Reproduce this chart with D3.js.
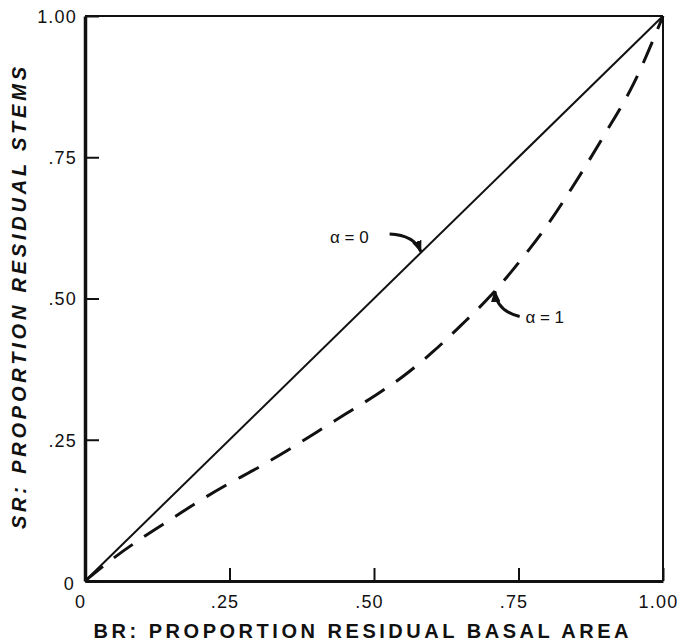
<!DOCTYPE html>
<html><head><meta charset="utf-8">
<script src="https://cdn.jsdelivr.net/npm/d3@7"></script>
<style>html,body{margin:0;padding:0;background:#fff;}</style>
</head><body>
<svg id="c" width="677" height="643"></svg>
<script>
// ---- data ----
const brValues = [0, .05, .10, .15, .20, .25, .30, .35, .40, .45, .50, .55, .60, .65, .70, .75, .80, .85, .90, .95, 1.0];
const srAlpha1 = [0, .041, .077, .110, .143, .173, .201, .231, .263, .295, .327, .362, .404, .452, .503, .563, .630, .708, .792, .882, 1.0];
const srAlpha0 = [0, 1.0];
const brAlpha0 = [0, 1.0];
const xTickValues = [0, .25, .50, .75, 1.0];
const xTickLabels = ["0", ".25", ".50", ".75", "1.00"];
const yTickValues = [0, .25, .50, .75, 1.0];
const yTickLabels = ["0", ".25", ".50", ".75", "1.00"];
const xTitle = "BR: PROPORTION RESIDUAL BASAL AREA";
const yTitle = "SR: PROPORTION RESIDUAL STEMS";
const labelAlpha0 = "\u03B1 = 0";
const labelAlpha1 = "\u03B1 = 1";

// ---- layout ----
const L = 85, R = 663, T = 16, B = 581;
const svg = d3.select("#c");
const x = d3.scaleLinear().domain([0, 1]).range([L, R]);
const y = d3.scaleLinear().domain([0, 1]).range([B, T]);
const font = "'Liberation Sans', Arial, sans-serif";
const ink = "#111";

// frame
svg.append("line").attr("x1", L).attr("x2", R).attr("y1", T).attr("y2", T).attr("stroke", ink).attr("stroke-width", 2);
svg.append("line").attr("x1", R).attr("x2", R).attr("y1", T).attr("y2", B).attr("stroke", ink).attr("stroke-width", 2);

// axes
const gx = svg.append("g").attr("transform", `translate(0,${B})`)
  .call(d3.axisBottom(x).tickValues(xTickValues).tickSizeInner(-13).tickSizeOuter(0)
    .tickPadding(0).tickFormat((d, i) => xTickLabels[i]));
gx.select(".domain").attr("stroke", ink).attr("stroke-width", 3.2);
gx.selectAll(".tick line").attr("stroke", ink).attr("stroke-width", 2);
gx.selectAll(".tick text").attr("font-family", font).attr("font-size", 18).attr("fill", ink)
  .attr("letter-spacing", 1.2).attr("y", 27).attr("dy", 0).attr("dx", -5);

const gy = svg.append("g").attr("transform", `translate(${L},0)`)
  .call(d3.axisLeft(y).tickValues(yTickValues).tickSizeInner(-14).tickSizeOuter(0)
    .tickPadding(9).tickFormat((d, i) => yTickLabels[i]));
gy.select(".domain").attr("stroke", ink).attr("stroke-width", 3.5);
gy.selectAll(".tick line").attr("stroke", ink).attr("stroke-width", 2);
gy.selectAll(".tick text").attr("font-family", font).attr("font-size", 18).attr("fill", ink)
  .attr("letter-spacing", 1.2).attr("x", -8).attr("dy", "0.36em");
gy.selectAll(".tick").filter(d => d === 0).select("text").attr("dy", "0.45em").attr("x", -10);

// curves
const line = d3.line().x(d => x(d[0])).y(d => y(d[1])).curve(d3.curveMonotoneX);
svg.append("path").datum(brAlpha0.map((b, i) => [b, srAlpha0[i]]))
  .attr("d", line).attr("fill", "none").attr("stroke", ink).attr("stroke-width", 2);
svg.append("path").datum(brValues.map((b, i) => [b, srAlpha1[i]]))
  .attr("d", line).attr("fill", "none").attr("stroke", ink).attr("stroke-width", 3)
  .attr("stroke-dasharray", "23,14");

// annotations (data-space anchors)
const ann = [
  {text: labelAlpha0, tx: 0.424, ty: 0.609, from: [0.527, 0.614], ctrl: [0.57, 0.612], to: [0.581, 0.583]},
  {text: labelAlpha1, tx: 0.762, ty: 0.467, from: [0.752, 0.468], ctrl: [0.712, 0.478], to: [0.709, 0.513]}
];
svg.append("defs").append("marker").attr("id", "ah").attr("viewBox", "0 0 10 10")
  .attr("refX", 9).attr("refY", 5).attr("markerWidth", 12).attr("markerHeight", 12)
  .attr("markerUnits", "userSpaceOnUse").attr("orient", "auto")
  .append("path").attr("d", "M0,1 L10,5 L0,9 Z").attr("fill", ink);
ann.forEach(a => {
  svg.append("text").attr("x", x(a.tx)).attr("y", y(a.ty)).attr("dy", "0.36em")
    .attr("font-family", font).attr("font-size", 17).attr("fill", ink).text(a.text);
  svg.append("path")
    .attr("d", `M${x(a.from[0])},${y(a.from[1])} Q${x(a.ctrl[0])},${y(a.ctrl[1])} ${x(a.to[0])},${y(a.to[1])}`)
    .attr("fill", "none").attr("stroke", ink).attr("stroke-width", 3).attr("marker-end", "url(#ah)");
});

// titles
svg.append("text").attr("x", 361).attr("y", 638).attr("text-anchor", "middle")
  .attr("font-family", font).attr("font-weight", "bold").attr("font-size", 20).attr("fill", ink)
  .attr("textLength", 535).attr("lengthAdjust", "spacing").text(xTitle);
svg.append("text").attr("transform", "translate(26,298) rotate(-90)").attr("text-anchor", "middle")
  .attr("font-family", font).attr("font-weight", "bold").attr("font-style", "italic")
  .attr("font-size", 20).attr("fill", ink)
  .attr("textLength", 462).attr("lengthAdjust", "spacing").text(yTitle);
</script>
</body></html>
